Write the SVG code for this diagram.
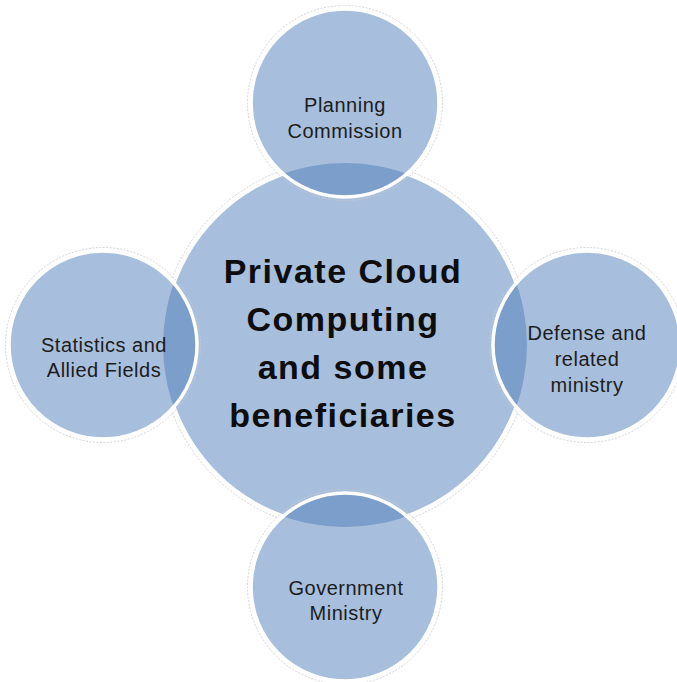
<svg xmlns="http://www.w3.org/2000/svg" width="677" height="682" viewBox="0 0 677 682">
  <style>
    .fill { fill: #a7bfdd; }
    .ring { fill: none; stroke: #ffffff; stroke-width: 3.5; }
    .halo { fill: none; stroke: #c9c9c9; stroke-width: 0.8; stroke-dasharray: 2 1.5; }
    .lens { fill: #7b9ecb; }
    .sat { font-family: "Liberation Sans", Arial, sans-serif; font-size: 20px; letter-spacing: 0.5px; fill: #1c1c1c; text-anchor: middle; }
    .main { font-family: "Liberation Sans", Arial, sans-serif; font-size: 34px; font-weight: bold; letter-spacing: 1.5px; fill: #0d0d0d; text-anchor: middle; }
  </style>
  <defs>
    <clipPath id="centralClip">
      <circle cx="345" cy="345" r="182"/>
    </clipPath>
  </defs>
  <rect width="677" height="682" fill="#ffffff"/>

  <g id="central">
    <circle class="halo" cx="345" cy="345" r="185.5"/>
    <circle class="fill" cx="345" cy="345" r="182"/>
    <circle class="ring" cx="345" cy="345" r="182"/>
  </g>

  <g id="planning">
    <circle class="halo" cx="345" cy="103" r="97.5"/>
    <circle class="fill" cx="345" cy="103" r="94"/>
    <circle class="lens" cx="345" cy="103" r="94" clip-path="url(#centralClip)"/>
    <circle class="ring" cx="345" cy="103" r="94"/>
    <text class="sat" x="345" y="112">Planning</text>
    <text class="sat" x="345" y="138">Commission</text>
  </g>

  <g id="statistics">
    <circle class="halo" cx="103" cy="345" r="97.5"/>
    <circle class="fill" cx="103" cy="345" r="94"/>
    <circle class="lens" cx="103" cy="345" r="94" clip-path="url(#centralClip)"/>
    <circle class="ring" cx="103" cy="345" r="94"/>
    <text class="sat" x="104" y="352">Statistics and</text>
    <text class="sat" x="104" y="377">Allied Fields</text>
  </g>

  <g id="defense">
    <circle class="halo" cx="587" cy="345" r="97.5"/>
    <circle class="fill" cx="587" cy="345" r="94"/>
    <circle class="lens" cx="587" cy="345" r="94" clip-path="url(#centralClip)"/>
    <circle class="ring" cx="587" cy="345" r="94"/>
    <text class="sat" x="587" y="340">Defense and</text>
    <text class="sat" x="587" y="366">related</text>
    <text class="sat" x="587" y="392">ministry</text>
  </g>

  <g id="government">
    <circle class="halo" cx="345" cy="587" r="97.5"/>
    <circle class="fill" cx="345" cy="587" r="94"/>
    <circle class="lens" cx="345" cy="587" r="94" clip-path="url(#centralClip)"/>
    <circle class="ring" cx="345" cy="587" r="94"/>
    <text class="sat" x="346" y="595">Government</text>
    <text class="sat" x="346" y="620">Ministry</text>
  </g>

  <g id="central-label">
    <text class="main" x="343" y="283">Private Cloud</text>
    <text class="main" x="343" y="331">Computing</text>
    <text class="main" x="343" y="379">and some</text>
    <text class="main" x="343" y="427">beneficiaries</text>
  </g>
</svg>
